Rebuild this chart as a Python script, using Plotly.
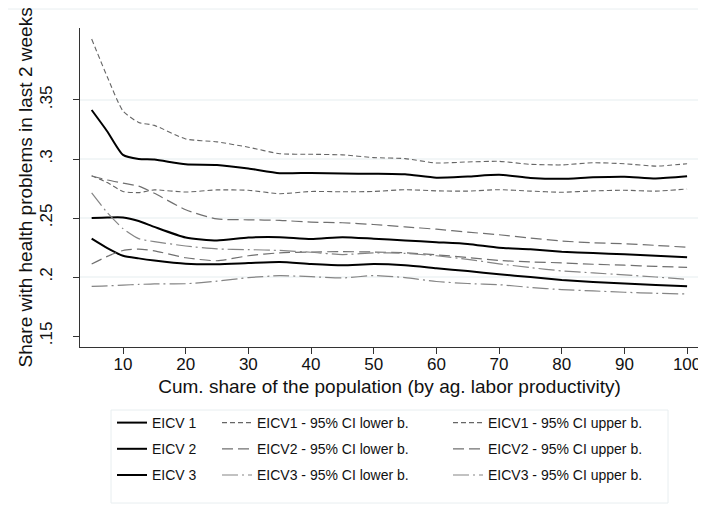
import plotly.graph_objects as go

# ---------------- data ----------------
x = [5, 7.5, 10, 12.5, 15, 20, 25, 30, 35, 40, 45, 50, 55, 60, 65, 70, 75, 80, 85, 90, 95, 100]

eicv1 = [0.3415, 0.3233, 0.3035, 0.3000, 0.2995, 0.2955, 0.2950, 0.2920, 0.2880, 0.2882, 0.2877,
         0.2875, 0.2870, 0.2842, 0.2852, 0.2866, 0.2840, 0.2832, 0.2845, 0.2850, 0.2835, 0.2853]
eicv1_lo = [0.2859, 0.2800, 0.2725, 0.2715, 0.2738, 0.2720, 0.2738, 0.2735, 0.2706, 0.2725, 0.2722,
            0.2725, 0.2740, 0.2730, 0.2728, 0.2740, 0.2728, 0.2718, 0.2730, 0.2735, 0.2728, 0.2746]
eicv1_hi = [0.4017, 0.3695, 0.3407, 0.3310, 0.3285, 0.3170, 0.3145, 0.3100, 0.3045, 0.3040, 0.3035,
            0.3012, 0.3003, 0.2966, 0.2975, 0.2980, 0.2955, 0.2950, 0.2968, 0.2960, 0.2940, 0.2960]

eicv2 = [0.2500, 0.2505, 0.2505, 0.2475, 0.2425, 0.2335, 0.2310, 0.2335, 0.2338, 0.2322, 0.2338,
         0.2325, 0.2310, 0.2295, 0.2280, 0.2248, 0.2235, 0.2215, 0.2203, 0.2193, 0.2180, 0.2167]
eicv2_lo = [0.2110, 0.2175, 0.2225, 0.2237, 0.2222, 0.2163, 0.2138, 0.2180, 0.2205, 0.2212, 0.2215,
            0.2212, 0.2205, 0.2188, 0.2165, 0.2140, 0.2128, 0.2120, 0.2108, 0.2100, 0.2090, 0.2082]
eicv2_hi = [0.2856, 0.2822, 0.2795, 0.2770, 0.2710, 0.2570, 0.2492, 0.2485, 0.2480, 0.2465, 0.2460,
            0.2445, 0.2425, 0.2405, 0.2380, 0.2358, 0.2330, 0.2305, 0.2290, 0.2282, 0.2268, 0.2252]

eicv3 = [0.2325, 0.2245, 0.2180, 0.2158, 0.2140, 0.2113, 0.2108, 0.2118, 0.2127, 0.2110, 0.2099,
         0.2110, 0.2100, 0.2075, 0.2050, 0.2023, 0.2000, 0.1975, 0.1958, 0.1946, 0.1933, 0.1922]
eicv3_lo = [0.1921, 0.1925, 0.1932, 0.1937, 0.1942, 0.1943, 0.1965, 0.1995, 0.2011, 0.2003, 0.1992,
            0.2012, 0.1995, 0.1962, 0.1945, 0.1935, 0.1912, 0.1893, 0.1882, 0.1871, 0.1862, 0.1856]
eicv3_hi = [0.2712, 0.2545, 0.2410, 0.2325, 0.2300, 0.2263, 0.2238, 0.2232, 0.2225, 0.2210, 0.2190,
            0.2205, 0.2200, 0.2180, 0.2150, 0.2112, 0.2080, 0.2052, 0.2035, 0.2018, 0.2000, 0.1980]

x_ticks = [10, 20, 30, 40, 50, 60, 70, 80, 90, 100]
y_ticks = [0.15, 0.20, 0.25, 0.30, 0.35]
y_tick_labels = [".15", ".2", ".25", ".3", ".35"]
grid_vals = [0.20, 0.25, 0.30, 0.35]

x_title = "Cum. share of the population (by ag. labor productivity)"
y_title = "Share with health problems in last 2 weeks"

names_solid = ["EICV 1", "EICV 2", "EICV 3"]
names_lo = ["EICV1 - 95% CI lower b.", "EICV2 - 95% CI lower b.", "EICV3 - 95% CI lower b."]
names_hi = ["EICV1 - 95% CI upper b.", "EICV2 - 95% CI upper b.", "EICV3 - 95% CI upper b."]

# ---------------- styles ----------------
ci_styles = [
    dict(color="#666666", width=1.1, dash="5px,3px"),
    dict(color="#707070", width=1.2, dash="11px,5px"),
    dict(color="#858585", width=1.2, dash="16px,4px,2px,4px"),
]
solid_style = dict(color="#000000", width=2)

fig = go.Figure()

solids = [eicv1, eicv2, eicv3]
los = [eicv1_lo, eicv2_lo, eicv3_lo]
his = [eicv1_hi, eicv2_hi, eicv3_hi]

for i in range(3):
    fig.add_trace(go.Scatter(x=x, y=solids[i], mode="lines", name=names_solid[i],
                             line=dict(shape="spline", smoothing=0.6, **solid_style),
                             legend="legend", legendgroup="s%d" % i))
for i in range(3):
    fig.add_trace(go.Scatter(x=x, y=los[i], mode="lines", name=names_lo[i],
                             line=dict(shape="spline", smoothing=0.6, **ci_styles[i]),
                             legend="legend2", legendgroup="l%d" % i))
for i in range(3):
    fig.add_trace(go.Scatter(x=x, y=his[i], mode="lines", name=names_hi[i],
                             line=dict(shape="spline", smoothing=0.6, **ci_styles[i]),
                             legend="legend3", legendgroup="h%d" % i))

W, H = 706, 517
L, R, T, B = 72, 15, 20, 178
pw, ph = W - L - R, H - T - B

def px_x(p):
    return (p - L) / pw

def px_y(p):
    return (H - B - p) / ph

shapes = []
for g in grid_vals:
    shapes.append(dict(type="line", xref="paper", yref="y", x0=0, x1=1, y0=g, y1=g,
                       line=dict(color="#e6edf0", width=1.2), layer="below"))
# legend frame
shapes.append(dict(type="rect", xref="paper", yref="paper",
                   x0=px_x(103), x1=px_x(660), y0=px_y(495), y1=px_y(402),
                   line=dict(color="#e8eef0", width=1), fillcolor="rgba(0,0,0,0)"))
# faint outer top edge
shapes.append(dict(type="line", xref="paper", yref="paper",
                   x0=px_x(0), x1=px_x(W), y0=px_y(1), y1=px_y(1),
                   line=dict(color="#e8eef0", width=1)))

font_family = "Liberation Sans, Arial, sans-serif"
leg_common = dict(orientation="v", xref="container", yref="container", yanchor="top",
                  xanchor="left", bgcolor="rgba(0,0,0,0)", borderwidth=0,
                  font=dict(size=14, color="#111111", family=font_family),
                  tracegroupgap=5, itemwidth=30)

annotations = [
    dict(text=y_title, xref="paper", yref="paper", x=px_x(17), y=0.5,
         xanchor="center", yanchor="middle", textangle=-90, showarrow=False,
         font=dict(size=19, color="#111111", family=font_family)),
]

fig.update_layout(
    width=W, height=H,
    margin=dict(l=L, r=R, t=T, b=B, autoexpand=False),
    paper_bgcolor="white", plot_bgcolor="white",
    font=dict(family=font_family, color="#111111"),
    showlegend=True,
    legend=dict(x=104 / W, y=1 - 399 / H, **leg_common),
    legend2=dict(x=209 / W, y=1 - 399 / H, **leg_common),
    legend3=dict(x=440 / W, y=1 - 399 / H, **leg_common),
    shapes=shapes,
    annotations=annotations,
    xaxis=dict(range=[3.14, 101.9], tickvals=x_ticks, ticks="outside", ticklen=6,
               tickcolor="#333333", showline=True, linecolor="#333333", linewidth=1,
               showgrid=False, zeroline=False, tickfont=dict(size=17, color="#111111"),
               ticklabelstandoff=-4,
               title=dict(text=x_title, font=dict(size=19, color="#111111"), standoff=6),
               automargin=False),
    yaxis=dict(range=[0.1407, 0.411], tickvals=y_ticks, ticktext=y_tick_labels,
               tickangle=-90, ticks="outside", ticklen=6, tickcolor="#333333",
               showline=True, linecolor="#333333", linewidth=1, showgrid=False,
               zeroline=False, tickfont=dict(size=17, color="#111111"),
               ticklabelstandoff=14, automargin=False),
)

fig.write_html("out.html")
